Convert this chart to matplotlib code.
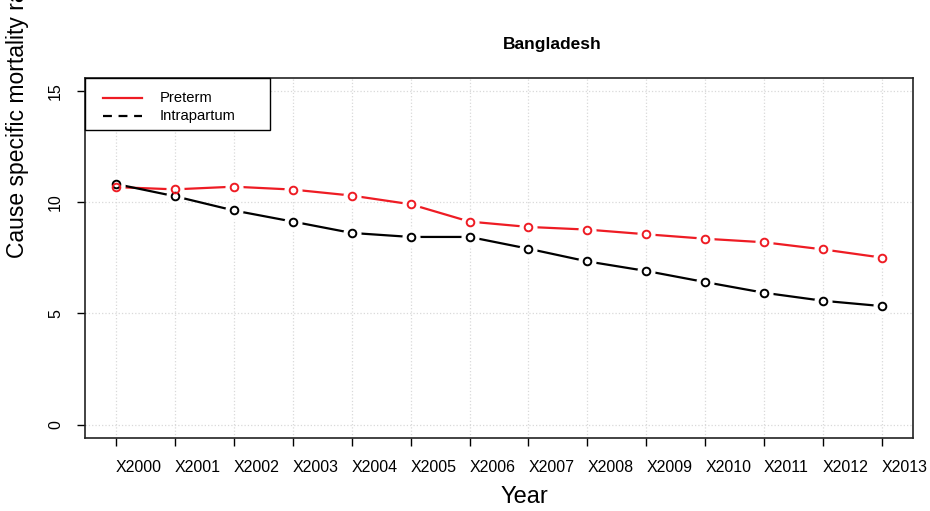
import matplotlib.pyplot as plt
from matplotlib.lines import Line2D
from matplotlib.patches import Rectangle

# data: cause specific mortality rate, Bangladesh
years = ['X2000', 'X2001', 'X2002', 'X2003', 'X2004', 'X2005', 'X2006',
         'X2007', 'X2008', 'X2009', 'X2010', 'X2011', 'X2012', 'X2013']
preterm = [10.68, 10.58, 10.70, 10.57, 10.30, 9.91, 9.13,
           8.89, 8.77, 8.56, 8.36, 8.20, 7.88, 7.51]
intrapartum = [10.82, 10.27, 9.63, 9.13, 8.62, 8.44, 8.44,
               7.91, 7.34, 6.91, 6.41, 5.93, 5.57, 5.33]

W, H = 930, 511
fig = plt.figure(figsize=(W / 100, H / 100), dpi=100)
plt.rcParams['font.family'] = ['Liberation Sans', 'DejaVu Sans']

x0, x1, y0, y1 = 85.4, 912.6, 77.7, 438.0
ax = fig.add_axes([x0 / W, 1 - y1 / H, (x1 - x0) / W, (y1 - y0) / H])

xs = list(range(1, len(years) + 1))
RED = '#ee1c24'

# R style type="b": lines broken around the points
for vals, col in [(preterm, RED), (intrapartum, 'black')]:
    ax.plot(xs, vals, color=col, lw=1.6, zorder=2)
    ax.plot(xs, vals, 'o', ms=12, mfc='white', mec='white', zorder=3)
for vals, col in [(intrapartum, 'black'), (preterm, RED)]:
    ax.plot(xs, vals, 'o', ms=5.5, mfc='none', mec=col, mew=1.4, zorder=4)

ax.set_xlim(0.48, 14.52)
ax.set_ylim(-0.6, 15.6)
ax.set_yticks([0, 5, 10, 15])
ax.set_xticks(xs)
ax.set_xticklabels(years, ha='left')
ax.tick_params(axis='x', length=6, width=1, pad=10, labelsize=11.5)
ax.tick_params(axis='y', length=6, width=1, pad=10, labelsize=11.5)
for lab in ax.get_yticklabels():
    lab.set_rotation(90)
    lab.set_va('center')
ax.grid(True, color='#d9d9d9', ls=':', lw=0.9)
for s in ax.spines.values():
    s.set_linewidth(1.2)
    s.set_color('#222222')

# legend box drawn in figure pixels, like R's legend()
def fx(px):
    return px / W

def fy(py):
    return 1 - py / H

fig.add_artist(Rectangle((fx(85.4), fy(130)), fx(270) - fx(85.4), fy(78) - fy(130),
                         transform=fig.transFigure, fc='white', ec='black',
                         lw=1.0, zorder=5))
legend_items = [('Preterm', RED, '-', 98), ('Intrapartum', 'black', (0, (4, 3)), 116)]
for name, col, ls, py in legend_items:
    fig.add_artist(Line2D([fx(103), fx(142)], [fy(py), fy(py)], color=col,
                          lw=1.6, ls=ls, transform=fig.transFigure, zorder=6))
    fig.text(fx(160), fy(py), name, ha='left', va='center', fontsize=10.6,
             zorder=6)

fig.text(552 / W, 1 - 45 / H, 'Bangladesh', ha='center', va='center',
         fontsize=12.5, fontweight='bold')
fig.text(524 / W, 1 - 497 / H, 'Year', ha='center', va='center', fontsize=17)
fig.text(18 / W, 1 - 258 / H, 'Cause specific mortality rate', rotation=90,
         ha='center', va='bottom', fontsize=16.5)

fig.savefig('out.png', dpi=100)
